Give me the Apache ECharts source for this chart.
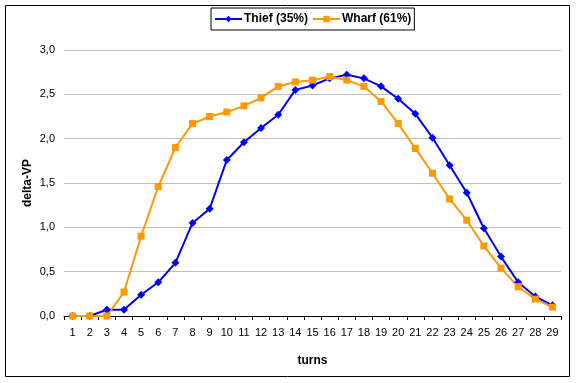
<!DOCTYPE html>
<html><head><meta charset="utf-8">
<script src="https://cdn.jsdelivr.net/npm/echarts@6/dist/echarts.min.js"></script>
<style>html,body{margin:0;padding:0;background:#fff}#c{width:577px;height:383px}</style>
</head><body><div id="c"></div>
<script>
const categories = ['1','2','3','4','5','6','7','8','9','10','11','12','13','14','15','16','17','18','19','20','21','22','23','24','25','26','27','28','29'];
const thief = [0.0,0.0,0.07,0.07,0.24,0.38,0.60,1.05,1.21,1.76,1.96,2.12,2.27,2.55,2.60,2.68,2.72,2.68,2.59,2.45,2.28,2.01,1.70,1.39,0.99,0.67,0.38,0.22,0.12];
const wharf = [0.0,0.0,0.0,0.27,0.90,1.46,1.90,2.17,2.25,2.30,2.37,2.46,2.59,2.64,2.66,2.70,2.66,2.59,2.42,2.17,1.89,1.61,1.32,1.08,0.79,0.54,0.33,0.19,0.10];
const yTicks = {min:0, max:3, interval:0.5};

const chart = echarts.init(document.getElementById('c'));
const font = 'Liberation Sans, Arial, sans-serif';
chart.setOption({
  animation:false,
  backgroundColor:'#fff',
  graphic:[{type:'rect',shape:{x:5.5,y:5.5,width:564,height:371},style:{fill:'none',stroke:'#000',lineWidth:1},silent:true}],
  legend:{
    left:211, top:8, itemGap:4, itemWidth:27, itemHeight:8,
    padding:[5,3,5,3],
    borderColor:'#000', borderWidth:1,
    textStyle:{fontFamily:font,fontSize:12,fontWeight:'bold',color:'#000',padding:[0,0,0,-3]},
    data:['Thief (35%)','Wharf (61%)']
  },
  grid:{left:64,right:16,top:50,bottom:67,containLabel:false},
  xAxis:{
    type:'category', data:categories, boundaryGap:true,
    name:'turns', nameLocation:'middle', nameGap:39, nameMoveOverlap:false,
    nameTextStyle:{fontFamily:font,fontSize:12,fontWeight:'bold',color:'#000'},
    axisLine:{lineStyle:{color:'#000',width:1}},
    axisTick:{show:true,alignWithLabel:false,length:4,lineStyle:{color:'#000'}},
    axisLabel:{fontFamily:font,fontSize:11,color:'#000',margin:11,interval:0}
  },
  yAxis:{
    type:'value', min:yTicks.min, max:yTicks.max, interval:yTicks.interval,
    name:'delta-VP', nameLocation:'middle', nameGap:30, nameRotate:90, nameMoveOverlap:false,
    nameTextStyle:{fontFamily:font,fontSize:12,fontWeight:'bold',color:'#000'},
    axisLine:{show:false}, axisTick:{show:false},
    splitLine:{lineStyle:{color:'#c0c0c0',width:1}},
    axisLabel:{fontFamily:font,fontSize:11,color:'#000',margin:9,formatter:v=>v.toFixed(1).replace('.',',')}
  },
  series:[
    {name:'Thief (35%)',type:'line',data:thief,symbol:'diamond',symbolSize:8,
     itemStyle:{color:'#0000ff'},lineStyle:{color:'#0000ff',width:2}},
    {name:'Wharf (61%)',type:'line',data:wharf,symbol:'rect',symbolSize:7,
     itemStyle:{color:'#ff9900'},lineStyle:{color:'#ff9900',width:2}}
  ]
});
</script></body></html>
